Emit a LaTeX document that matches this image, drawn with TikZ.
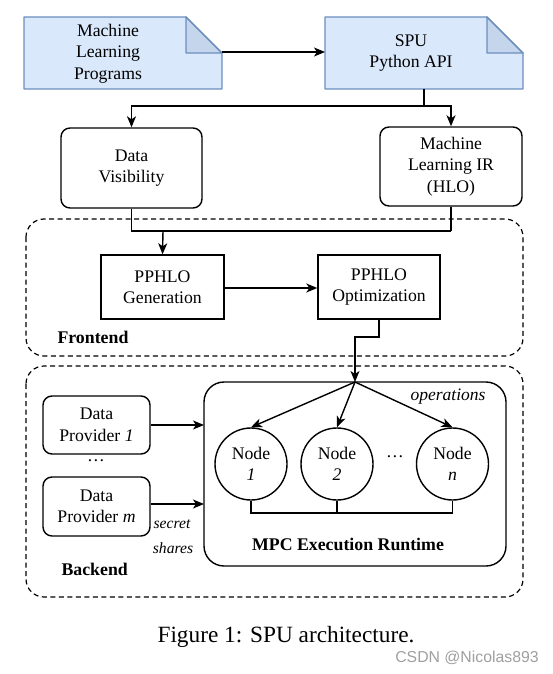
\documentclass[tikz,border=0pt]{standalone}
\usepackage{fontspec}
\setmainfont{Liberation Serif}
\newfontfamily\wmfont{Liberation Sans}
\usetikzlibrary{arrows.meta,calc}
\definecolor{docfill}{HTML}{DAE8FC}
\definecolor{docline}{HTML}{6C8EBF}
\definecolor{foldfill}{HTML}{C5D5EC}
\tikzset{
  every node/.style={font=\fontsize{17.7}{21.5}\selectfont, align=center},
  ln/.style={line width=1.4pt, draw=black},
  arr/.style={ln, -{Stealth[length=11pt,width=9pt,inset=3pt]}},
  rbox/.style={ln, rounded corners=9pt, minimum width=#1},
  sbox/.style={ln, rectangle},
  grp/.style={line width=1.2pt, dashed, dash pattern=on 5pt off 3.5pt, rounded corners=18pt},
  circ/.style={ln, circle, minimum size=72pt, inner sep=0pt},
  lbl/.style={font=\fontsize{15.6}{19}\selectfont\itshape},
  bold/.style={font=\fontsize{17.8}{21}\selectfont\bfseries},
}
\begin{document}
\begin{tikzpicture}[x=1pt,y=-1pt]
\useasboundingbox (0,0) rectangle (553,674);
% documents
\foreach \nm/\xa/\xb in {d1/24/222, d2/325/523}{
  \fill[docfill] (\xa,17) -- (\xb-36,17) -- (\xb,53) -- (\xb,89) -- (\xa,89) -- cycle;
  \filldraw[foldfill, draw=docline, line width=1.3pt, line join=round] (\xb-36,17) -- (\xb-36,53) -- (\xb,53) -- cycle;
  \draw[docline, line width=1.3pt, line join=round] (\xa,17) -- (\xb-36,17) -- (\xb,53) -- (\xb,89) -- (\xa,89) -- cycle;
}
\node (mlp) at (108,53.5) {Machine\\Learning\\Programs};
\node (spu) at (411,53) {SPU\\Python API};
\coordinate (d1r) at (222,52);
\coordinate (d2l) at (325,52);
\coordinate (d2b) at (424,89);
\draw[arr] (d1r) -- (d2l);

% data visibility & ML IR
\node[rbox=141pt, minimum height=80pt] (dv) at (131.5,168) {Data\\Visibility};
\node[rbox=142pt, minimum height=79pt] (ir) at (451,166.5) {Machine\\Learning IR\\(HLO)};
\draw[ln] (d2b) -- (424,106) coordinate (sp);
\draw[arr] (sp) -| (dv.north);
\draw[arr] (sp) -| (ir.north);

% frontend
\draw[grp] (26,219) rectangle (523,356);
\node[bold, anchor=west] (fe) at (54,337) {Frontend};
\node[sbox, minimum width=123pt, minimum height=64pt] (gen) at (162.5,287) {PPHLO\\Generation};
\node[sbox, minimum width=122pt, minimum height=64pt] (opt) at (379,287) {PPHLO\\Optimization};
\draw[ln] (dv.south) |- (ir.south |- 0,231);
\draw[ln] (ir.south) -- (ir.south |- 0,231);
\draw[arr] (163,231) -- (gen.north);
\draw[arr] (gen.east |- 0,288) -- (opt.west |- 0,288);

% backend
\draw[grp] (26,366) rectangle (523,597);
\node[bold, anchor=west] (be) at (58,569) {Backend};
\draw[ln, rounded corners=20pt] (204,382) rectangle (506,566);
\coordinate (mpctop) at (355,382);
\draw[arr] (opt.south) -- (379,337) -- (355,337) -- (mpctop);
\node[bold] (mpc) at (348,544) {MPC Execution Runtime};
\node[font=\fontsize{17.5}{21}\selectfont\itshape] (ops) at (448,397) {operations};

\node[circ] (n1) at (251,464) {Node\\\textit{1}};
\node[circ] (n2) at (337,464) {Node\\\textit{2}};
\node[circ] (nn) at (452.5,464) {Node\\\textit{n}};
\node (dots) at (395,457) {\dots};
\draw[arr] (mpctop) -- (n1.north);
\draw[arr] (mpctop) -- (n2.north);
\draw[arr] (mpctop) -- (nn.north);
\draw[ln] (n1.south) -- (251,513) -- (452.5,513) -- (nn.south);
\draw[ln] (n2.south) -- (337,513);

\node[rbox=107pt, minimum height=58pt] (dp1) at (96.5,425) {Data\\Provider \textit{1}};
\node[rbox=107pt, minimum height=59pt] (dpm) at (96.5,506.5) {Data\\Provider \textit{m}};
\node (vd) at (96,461) {\dots};
\draw[arr] (dp1.east |- 0,425) -- (204,425);
\draw[arr] (dpm.east |- 0,504) -- (204,504);
\node[lbl] (sec) at (172,524) {secret};
\node[lbl] (sha) at (173,548) {shares};

% caption
\node[font=\fontsize{23.3}{26}\selectfont] (cap) at (286,637) {Figure 1: SPU architecture.};
\node[font=\wmfont\fontsize{15.8}{18}\selectfont, text=gray!75] (wm) at (467,658) {CSDN @Nicolas893};
\end{tikzpicture}
\end{document}
